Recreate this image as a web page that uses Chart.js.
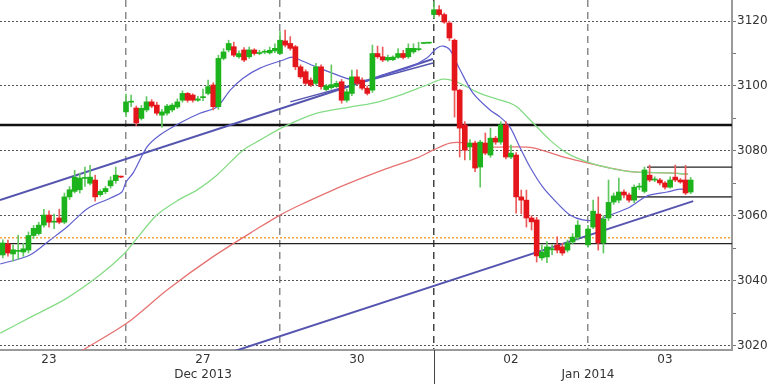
<!DOCTYPE html>
<html>
<head>
<meta charset="utf-8">
<script src="https://cdn.jsdelivr.net/npm/chart.js@4.4.1/dist/chart.umd.min.js"></script>
<style>
  html, body { margin: 0; padding: 0; background: #fff; }
  #wrap { width: 768px; height: 384px; }
</style>
</head>
<body>
<div id="wrap"><canvas id="chart"></canvas></div>
<script>
// bars are numbered from the session grid: 30 = Dec 27, 60 = Dec 30, 90 = Jan 02, 120 = Jan 03
const FIRST_BAR = 6;
const X_MIN = 5.455;
const X_MAX = 148.05;
const Y_MIN = 3018.6;
const Y_MAX = 3126.5;

const opens = [
  // Dec 23
  3047.9, 3051.3, 3048.2, 3049.0, 3048.8, 3049.4, 3053.9, 3054.5, 3057.1, 3060.2, 3058.0, 3059.3,
  3058.0, 3065.8, 3067.5, 3068.0, 3071.5, 3070.0, 3071.0, 3066.5, 3067.4, 3069.2, 3070.8, 3072.0,
  // Dec 27
  3092.0, 3095.0, 3093.2, 3090.0, 3092.6, 3095.1, 3094.1, 3091.0, 3091.6, 3092.6, 3093.5, 3095.6,
  3097.7, 3097.2, 3095.6, 3096.4, 3097.7, 3100.3, 3093.6, 3108.5, 3111.1, 3112.1, 3109.0, 3111.1,
  3109.0, 3111.1, 3110.0, 3110.4, 3110.2, 3110.8,
  // Dec 30
  3110.0, 3113.9, 3113.1, 3112.1, 3105.9, 3104.4, 3101.8, 3100.8, 3105.9, 3098.9, 3099.5, 3099.8,
  3101.3, 3095.6, 3097.7, 3102.8, 3101.8, 3099.3, 3098.7, 3110.0, 3109.0, 3108.0, 3108.1, 3108.8,
  3110.0, 3109.0, 3110.5, 3111.2, 3113.1, 3113.2,
  // Jan 02
  3122.0, 3123.5, 3122.0, 3119.4, 3114.1, 3098.7, 3088.0, 3081.2, 3082.4, 3075.0, 3082.4, 3078.7,
  3083.9, 3082.7, 3088.0, 3078.1, 3078.7, 3065.8, 3064.8, 3059.3, 3058.7, 3047.0, 3047.3, 3049.5,
  3051.0, 3050.4, 3049.4, 3051.9, 3053.4, null,
  // Jan 03
  3051.0, 3056.5, 3060.5, 3051.6, 3059.3, 3064.2, 3064.8, 3067.3, 3066.4, 3064.8, 3068.8, 3067.5,
  3072.5, 3071.0, 3071.0, 3070.1, 3068.8, 3071.9, 3071.0, 3071.0, 3067.3
];
const highs = [
  3052.6, 3052.5, 3051.0, 3054.0, 3051.5, 3055.0, 3057.0, 3058.0, 3062.0, 3061.5, 3060.5, 3062.0,
  3067.0, 3069.0, 3074.0, 3073.0, 3075.0, 3075.5, 3072.5, 3068.0, 3069.0, 3072.0, 3075.0, 3072.2,
  3097.5, 3097.2, 3093.8, 3094.0, 3096.7, 3095.8, 3095.0, 3092.8, 3094.3, 3094.6, 3096.0, 3098.5,
  3098.0, 3097.6, 3096.8, 3099.0, 3101.8, 3101.0, 3109.5, 3111.5, 3114.1, 3113.5, 3110.8, 3111.8,
  3112.0, 3111.5, 3111.0, 3111.2, 3112.0, 3113.0,
  3116.8, 3117.2, 3115.2, 3112.5, 3106.5, 3105.0, 3102.5, 3107.0, 3106.5, 3100.5, 3106.5, 3101.5,
  3102.0, 3099.0, 3104.9, 3105.0, 3102.5, 3100.0, 3112.6, 3112.3, 3112.0, 3109.5, 3109.3, 3111.5,
  3111.0, 3113.0, 3113.0, 3113.5, 3113.3, 3113.3,
  3126.0, 3124.8, 3122.5, 3120.0, 3114.5, 3099.0, 3089.0, 3083.5, 3083.0, 3083.3, 3085.5, 3087.0,
  3084.5, 3089.0, 3089.0, 3081.8, 3079.5, 3067.9, 3067.9, 3060.0, 3059.5, 3051.0, 3052.0, 3051.0,
  3053.5, 3051.5, 3052.5, 3054.5, 3058.5, null,
  3057.0, 3064.8, 3065.8, 3060.0, 3071.0, 3067.0, 3071.6, 3068.0, 3067.0, 3069.5, 3070.0, 3075.0,
  3075.6, 3072.0, 3071.5, 3070.5, 3072.0, 3075.6, 3071.5, 3075.5, 3071.8
];
const lows = [
  3047.0, 3047.5, 3046.0, 3046.5, 3047.5, 3048.5, 3053.0, 3054.0, 3056.5, 3056.5, 3056.0, 3057.5,
  3057.5, 3065.0, 3067.0, 3067.0, 3069.0, 3069.5, 3064.5, 3066.0, 3066.8, 3068.5, 3070.0, 3071.7,
  3090.5, 3093.6, 3087.8, 3089.5, 3092.0, 3093.3, 3091.0, 3087.3, 3091.0, 3092.0, 3093.0, 3095.0,
  3095.0, 3095.0, 3095.2, 3095.5, 3097.2, 3092.6, 3092.8, 3108.0, 3110.5, 3109.0, 3108.5, 3107.5,
  3108.5, 3109.5, 3109.6, 3109.9, 3109.8, 3110.3,
  3109.8, 3112.0, 3111.0, 3105.0, 3102.3, 3100.3, 3099.8, 3100.3, 3099.0, 3098.5, 3099.0, 3099.5,
  3094.7, 3095.0, 3097.0, 3100.3, 3098.8, 3097.2, 3098.0, 3108.5, 3107.5, 3107.6, 3107.8, 3108.5,
  3108.3, 3108.5, 3110.0, 3110.8, 3113.0, 3113.1,
  3121.0, 3121.5, 3119.3, 3114.0, 3090.4, 3078.1, 3077.2, 3077.2, 3073.6, 3068.8, 3078.8, 3078.0,
  3082.0, 3082.0, 3077.5, 3077.6, 3060.8, 3060.6, 3056.5, 3055.6, 3045.7, 3046.3, 3045.5, 3048.0,
  3048.5, 3047.8, 3048.8, 3051.3, 3052.5, null,
  3050.3, 3056.0, 3049.4, 3048.5, 3058.5, 3063.5, 3064.0, 3065.5, 3064.2, 3064.0, 3068.0, 3067.0,
  3070.5, 3070.5, 3069.5, 3068.2, 3068.5, 3070.5, 3070.0, 3066.5, 3066.8
];
const closes = [
  3051.6, 3048.5, 3049.5, 3049.3, 3049.8, 3053.9, 3056.1, 3057.1, 3060.2, 3058.0, 3058.3, 3058.0,
  3065.8, 3068.0, 3071.9, 3071.6, 3071.8, 3071.9, 3065.8, 3067.5, 3068.4, 3070.8, 3072.5, 3071.9,
  3095.1, 3095.3, 3088.6, 3093.1, 3095.1, 3093.8, 3091.6, 3092.0, 3093.8, 3094.1, 3095.1, 3097.7,
  3095.6, 3095.6, 3096.0, 3096.6, 3099.8, 3093.6, 3108.5, 3110.5, 3113.1, 3109.5, 3110.0, 3108.0,
  3111.1, 3110.0, 3110.3, 3110.6, 3111.0, 3111.6,
  3114.1, 3112.6, 3111.6, 3105.9, 3102.8, 3100.8, 3100.3, 3105.9, 3099.8, 3100.0, 3100.4, 3100.8,
  3095.6, 3098.2, 3102.8, 3100.8, 3099.3, 3097.7, 3110.0, 3109.0, 3108.0, 3108.8, 3108.9, 3110.0,
  3108.8, 3111.6, 3111.6, 3111.4, 3113.2, 3113.2,
  3123.5, 3122.0, 3119.7, 3114.8, 3098.7, 3087.0, 3080.2, 3082.4, 3074.7, 3082.7, 3079.3, 3083.9,
  3082.7, 3088.0, 3078.1, 3079.3, 3065.8, 3064.8, 3059.3, 3058.1, 3047.6, 3048.8, 3050.4, 3049.8,
  3049.4, 3048.5, 3051.6, 3053.4, 3057.1, null,
  3055.9, 3061.4, 3051.6, 3059.0, 3064.1, 3066.1, 3067.3, 3066.4, 3064.8, 3068.8, 3069.1, 3074.1,
  3071.0, 3071.2, 3070.1, 3068.8, 3071.0, 3071.0, 3070.4, 3067.0, 3071.0
];

// moving averages, [bar, price]
const fastMa = [
  [5.5, 3045.1], [11.3, 3047.9], [15.2, 3052.5], [18.5, 3056.5], [21.4, 3060.8], [23, 3062.7],
  [26.9, 3065.4], [29.2, 3067.3], [30, 3070.4], [31.4, 3073.2], [34.1, 3081.2], [36.6, 3084.9],
  [40.5, 3088.6], [44.4, 3091.6], [47.7, 3093.5], [50.3, 3098.7], [52.8, 3102.4], [56.1, 3105.5],
  [60.6, 3108.0], [62.3, 3108.9], [63.9, 3108.0], [67.2, 3105.8], [71.1, 3103.4], [73.6, 3102.1],
  [77, 3101.8], [80.1, 3103.4], [85.3, 3105.8], [88.6, 3108.6], [90.6, 3111.7], [91.8, 3112.3],
  [93.1, 3111.1], [95.1, 3104.9], [97.6, 3097.8], [100.9, 3092.6], [102.9, 3090.4], [104.8, 3087.3],
  [106.7, 3081.2], [108.7, 3075.0], [111.2, 3068.8], [114, 3063.9], [116.5, 3060.2], [119, 3058.7],
  [121.8, 3058.7], [124.3, 3060.2], [128.2, 3062.7], [130.7, 3065.4], [132.1, 3066.4], [135.4, 3067.3],
  [137.9, 3068.2], [139.9, 3067.9]
];
const midMa = [
  [5.5, 3023.8], [11.9, 3029.1], [18.5, 3034.6], [24.9, 3041.7], [29.4, 3047.9], [31.4, 3051.6],
  [36, 3060.2], [40.5, 3065.1], [43.8, 3067.9], [47.7, 3072.5], [52.8, 3080.2], [56.1, 3083.3],
  [60.6, 3087.3], [67.2, 3091.6], [73.6, 3093.5], [78.1, 3094.7], [83.4, 3097.2], [88.6, 3100.3],
  [91.8, 3102.1], [94.5, 3101.2], [98.4, 3098.1], [100.9, 3096.6], [104.8, 3094.7], [106.2, 3093.5],
  [109.3, 3088.6], [112.6, 3083.3], [115.9, 3079.3], [120, 3076.5], [124.3, 3074.7], [128.8, 3073.5],
  [135.4, 3073.2], [139.5, 3072.8]
];
const slowMa = [
  [19.1, 3016.1], [21.6, 3018.6], [30.2, 3026.9], [38, 3037.1], [46.9, 3047.3], [56.1, 3056.5],
  [60, 3060.2], [63.9, 3063.3], [70.3, 3067.9], [73.6, 3070.1], [80.1, 3074.1], [86.7, 3077.8],
  [89.8, 3080.2], [93.1, 3082.4], [96.4, 3082.4], [99.6, 3081.2], [104.8, 3081.2], [109.3, 3080.9],
  [115.9, 3077.8], [120, 3076.2], [124.3, 3074.7], [128.8, 3073.5], [135.4, 3073.2], [139.5, 3072.8]
];

// trend lines and levels
const trendUpper = [[5.46, 3064.8], [89.8, 3108.3]];
const trendUpper2 = [[62.0, 3095.1], [89.8, 3107.1]];
const trendLower = [[51.0, 3018.2], [140.5, 3064.5]];
const levelThick = 3088.0;
const levelThin = 3051.4;
const levelDotted = 3053.2;
const rangeTop = [131.5, 3075.0];
const rangeBottom = [129.5, 3065.8];

const dayBars = [15, 30, 45, 60, 75, 90, 105, 120, 135];
const dayLabels = ['23', '', '27', '', '30', '', '02', '', '03'];
const monthBars = [45, 120];
const monthLabels = ['Dec 2013', 'Jan 2014'];
const yTicks = [3020, 3030, 3040, 3050, 3060, 3070, 3080, 3090, 3100, 3110, 3120];
const JAN_BAR = 90;

const UP = '#1db31d', DOWN = '#e4161b';
const WICK_UP = '#62c862', WICK_DOWN = '#ec5a5a';
const font = { family: 'DejaVu Sans', size: 12 };

const candles = opens.map((o, i) => ({ bar: FIRST_BAR + i, o, h: highs[i], l: lows[i], c: closes[i] }))
  .filter(d => d.o !== null);
const up = d => d.c >= d.o;
const pts = arr => arr.map(([x, y]) => ({ x, y }));
const flat = (y, from) => [{ x: from, y }, { x: X_MAX, y }];

function lineSet(data, color, width, extra) {
  return Object.assign({
    type: 'line', data, borderColor: color, borderWidth: width,
    pointRadius: 0, fill: false, clip: 0, order: 3
  }, extra || {});
}

const monthSplit = {
  id: 'monthSplit',
  afterDraw(chart) {
    const { ctx, chartArea, scales } = chart;
    const px = Math.round(scales.x.getPixelForValue(JAN_BAR)) + 0.5;
    ctx.save();
    ctx.strokeStyle = '#444';
    ctx.lineWidth = 1;
    ctx.beginPath();
    ctx.moveTo(px, chartArea.bottom);
    ctx.lineTo(px, chart.height);
    ctx.stroke();
    ctx.restore();
  }
};

new Chart(document.getElementById('chart'), {
  type: 'bar',
  data: {
    datasets: [
      {
        data: candles.map(d => ({ x: d.bar, y: [d.o, d.c] })),
        backgroundColor: candles.map(d => up(d) ? UP : DOWN),
        barThickness: 5, minBarLength: 1, grouped: false, order: 0
      },
      {
        data: candles.map(d => ({ x: d.bar, y: [d.l, d.h] })),
        backgroundColor: candles.map(d => up(d) ? WICK_UP : WICK_DOWN),
        barThickness: 1, grouped: false, order: 1
      },
      lineSet(pts(fastMa), '#5f5fcf', 1.2, { tension: 0.3 }),
      lineSet(pts(midMa), '#86dc86', 1.3, { tension: 0.3 }),
      lineSet(pts(slowMa), '#e77272', 1.3, { tension: 0.3 }),
      lineSet(pts(trendUpper), '#5555b0', 2),
      lineSet(pts(trendUpper2), '#5555b0', 1.5),
      lineSet(pts(trendLower), '#5555b0', 2),
      lineSet(flat(levelThick, X_MIN), '#111', 2.5, { order: 5 }),
      lineSet(flat(levelThin, X_MIN), '#222', 1.2, { order: 5 }),
      lineSet(flat(levelDotted, X_MIN), '#f2a23a', 1.5, { order: 5, borderDash: [2, 2] }),
      lineSet(flat(rangeTop[1], rangeTop[0]), '#222', 1.2, { order: 5 }),
      lineSet(flat(rangeBottom[1], rangeBottom[0]), '#555', 1.8, { order: 5 })
    ]
  },
  options: {
    responsive: true,
    maintainAspectRatio: false,
    animation: false,
    events: [],
    layout: { padding: 0 },
    plugins: { legend: { display: false }, tooltip: { enabled: false } },
    scales: {
      x: {
        type: 'linear', position: 'bottom', min: X_MIN, max: X_MAX, offset: false,
        afterBuildTicks: s => { s.ticks = dayBars.map(v => ({ value: v })); },
        afterFit: s => { s.height = 16; s.paddingLeft = 0; s.paddingRight = 0; },
        grid: {
          offset: false, drawTicks: false, lineWidth: 1.5,
          color: c => c.tick && c.tick.value % 30 === 0 ? (c.tick.value === JAN_BAR ? '#444' : '#8a8a8a') : 'transparent'
        },
        border: { color: '#9a9a9a', width: 2, dash: [7, 5] },
        ticks: {
          padding: 3, font, color: '#333', maxRotation: 0, autoSkip: false,
          callback: v => dayLabels[dayBars.indexOf(v)]
        }
      },
      x2: {
        type: 'linear', position: 'bottom', min: X_MIN, max: X_MAX, offset: false,
        afterBuildTicks: s => { s.ticks = monthBars.map(v => ({ value: v })); },
        afterFit: s => { s.height = 18; s.paddingLeft = 0; s.paddingRight = 0; },
        grid: { display: false, drawTicks: false },
        border: { display: false },
        ticks: {
          padding: 2, font, color: '#333', maxRotation: 0, autoSkip: false,
          callback: v => monthLabels[monthBars.indexOf(v)]
        }
      },
      y: {
        position: 'right', min: Y_MIN, max: Y_MAX,
        afterBuildTicks: s => { s.ticks = yTicks.map(v => ({ value: v })); },
        afterFit: s => { s.width = 36; s.paddingTop = 0; s.paddingBottom = 0; },
        grid: {
          lineWidth: 1, tickLength: 4, tickColor: '#777',
          color: c => c.tick && c.tick.value % 20 === 0 ? '#555' : 'transparent'
        },
        border: { color: '#9a9a9a', width: 2, dash: [2, 2] },
        ticks: {
          padding: 1, font, color: '#333',
          callback: v => v % 20 === 0 ? String(v) : ''
        }
      }
    }
  },
  plugins: [monthSplit]
});
</script>
</body>
</html>
